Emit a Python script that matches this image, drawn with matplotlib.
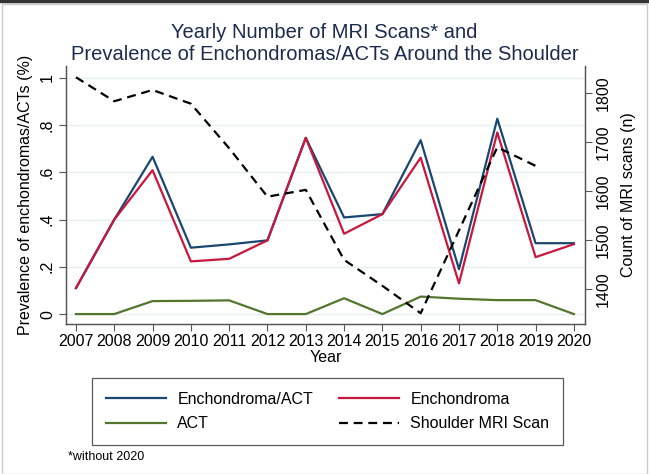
import numpy as np
import matplotlib
matplotlib.use("Agg")
import matplotlib.pyplot as plt
from matplotlib.patches import Rectangle
from matplotlib.lines import Line2D

plt.rcParams['font.family'] = ['Liberation Sans', 'DejaVu Sans']

years = [2007, 2008, 2009, 2010, 2011, 2012, 2013, 2014, 2015, 2016, 2017, 2018, 2019, 2020]
ench_act = [0.11, 0.40, 0.666, 0.281, 0.295, 0.312, 0.746, 0.409, 0.423, 0.736, 0.19, 0.827, 0.30, 0.30]
ench = [0.11, 0.40, 0.609, 0.223, 0.234, 0.312, 0.746, 0.34, 0.423, 0.662, 0.13, 0.769, 0.241, 0.296]
act = [0.0, 0.0, 0.055, 0.056, 0.058, 0.0, 0.0, 0.067, 0.0, 0.074, 0.065, 0.059, 0.059, 0.0]
mri_years = [2007, 2008, 2009, 2010, 2011, 2012, 2013, 2014, 2015, 2016, 2017, 2018, 2019]
mri = [1833, 1784, 1807, 1779, 1688, 1589, 1603, 1460, 1407, 1351, 1520, 1690, 1652]

left_ticks = [0, 0.2, 0.4, 0.6, 0.8, 1.0]
left_labels = ['0', '.2', '.4', '.6', '.8', '1']
right_ticks = [1400, 1500, 1600, 1700, 1800]

c_blue = '#1a476f'
c_red = '#c8173d'
c_green = '#55752f'
c_axis = '#555555'

fig = plt.figure(figsize=(6.49, 4.74), dpi=100)
ax = fig.add_axes([66 / 649, 1 - 324 / 474, (585 - 66) / 649, (324 - 66) / 474])
ax2 = ax.twinx()

ax.set_axisbelow(True)
ax.grid(axis='y', color='#e6eff2', linewidth=1.0)
ax.grid(axis='x', visible=False)

l1, = ax.plot(years, ench_act, color=c_blue, lw=1.6)
l2, = ax.plot(years, ench, color=c_red, lw=1.6)
l3, = ax.plot(years, act, color=c_green, lw=1.6)
l4, = ax2.plot(mri_years, mri, color='black', lw=1.6, dashes=(4, 2.6))

ax.set_xlim(2006.74, 2020.29)
ax.set_ylim(-0.042, 1.05)
ax2.set_ylim(1329, 1856)

ax.set_xticks(years)
ax.set_yticks(left_ticks)
ax.set_yticklabels(left_labels)
ax2.set_yticks(right_ticks)

for s in ['top']:
    ax.spines[s].set_visible(False)
    ax2.spines[s].set_visible(False)
for s in ['left', 'bottom', 'right']:
    ax.spines[s].set_color(c_axis)
    ax2.spines[s].set_color(c_axis)
    ax2.spines[s].set_linewidth(0.9)
    ax.spines[s].set_linewidth(0.9)

ax.tick_params(axis='x', labelsize=11.5, length=5, color=c_axis, pad=2)
ax.tick_params(axis='y', labelsize=11.5, length=5, color=c_axis, pad=3, labelrotation=90)
ax2.tick_params(axis='y', labelsize=11.5, length=5, color=c_axis, pad=3, labelrotation=90)
for lab in ax.get_yticklabels() + ax2.get_yticklabels():
    lab.set_va('center')

ax.set_xlabel('Year', fontsize=11.5, labelpad=1)
ax.set_ylabel('Prevalence of enchondromas/ACTs (%)', fontsize=11.5, labelpad=5)
ax2.set_ylabel('Count of MRI scans (n)', fontsize=11.5, labelpad=7)

fig.text(0.5, 1 - 33 / 474, 'Yearly Number of MRI Scans* and', ha='center', va='center',
         fontsize=14.5, color='#1c2b4e')
fig.text(0.5, 1 - 55 / 474, 'Prevalence of Enchondromas/ACTs Around the Shoulder', ha='center',
         va='center', fontsize=14.5, color='#1c2b4e')

leg = fig.legend([l1, l3, l2, l4], ['Enchondroma/ACT', 'ACT', 'Enchondroma', 'Shoulder MRI Scan'],
                 loc='upper left', bbox_to_anchor=(92 / 649, 1 - 378 / 474, 471 / 649, 0),
                 mode='expand', ncol=2, fontsize=11.5, handlelength=3.8, handletextpad=0.7,
                 borderpad=0.85, labelspacing=0.6, borderaxespad=0, fancybox=False, frameon=True)
leg.get_frame().set_edgecolor('#333333')
leg.get_frame().set_linewidth(0.9)

fig.text(68 / 649, 1 - 457 / 474, '*without 2020', ha='left', va='center', fontsize=9)

# outer frame
fig.patches.append(Rectangle((2 / 649, 0), 645 / 649, 1 - 4 / 474, transform=fig.transFigure,
                             fill=False, edgecolor='#cccccc', linewidth=1.0))
fig.lines.append(Line2D([0, 1], [1 - 1 / 474, 1 - 1 / 474], transform=fig.transFigure,
                        color='#333333', linewidth=2.5))

fig.savefig('out.png', dpi=100)
